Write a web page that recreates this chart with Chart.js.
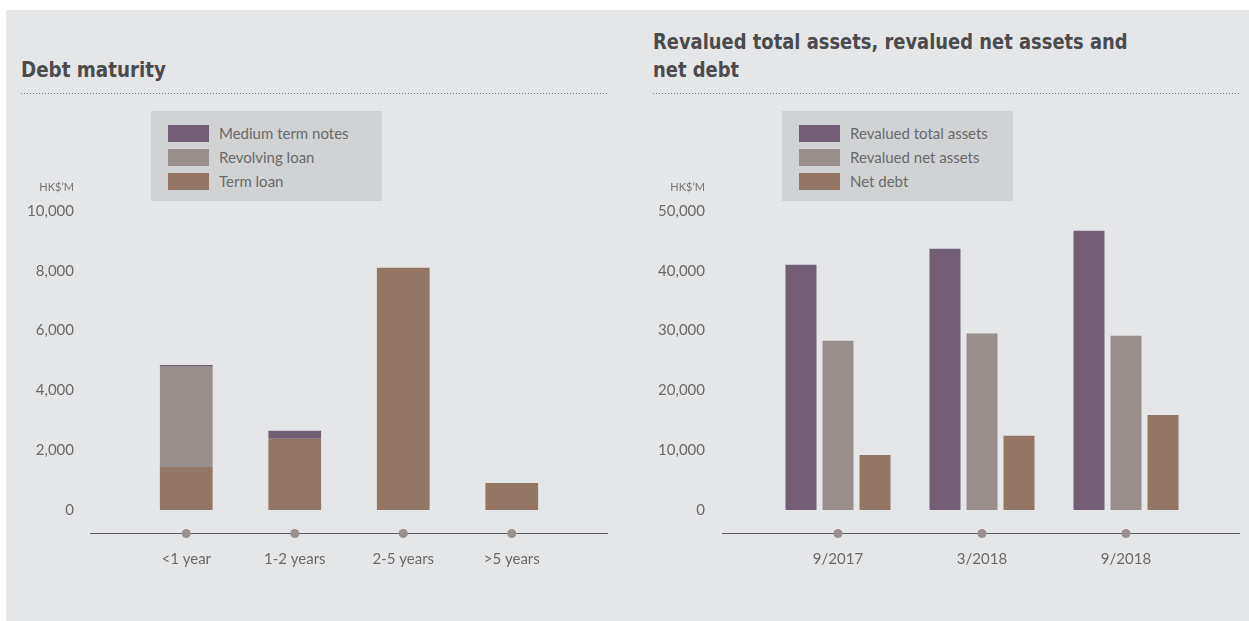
<!DOCTYPE html>
<html>
<head>
<meta charset="utf-8">
<script src="https://cdn.jsdelivr.net/npm/chart.js@4/dist/chart.umd.min.js"></script>
<style>
  body { margin: 0; background: #fff; width: 1249px; height: 621px; overflow: hidden; position: relative; font-family: Lato, "Open Sans", sans-serif; }
  .panel { position: absolute; left: 6px; top: 10px; width: 1243px; height: 611px; background: #e5e6e8; }
  .title { position: absolute; font-family: "DejaVu Sans", sans-serif; font-stretch: condensed; font-weight: bold; font-size: 22px; line-height: 28px; color: #4b4b4d; transform-origin: 0 0; white-space: nowrap; }
  .title span { display: inline-block; }
  .rule { position: absolute; height: 1px; top: 93px;
    background: repeating-linear-gradient(to right, #7a7a7a 0 1px, transparent 1px 3px); }
  .legend { position: absolute; top: 111px; width: 231px; height: 90px; background: #d1d2d4; }
  .legend .row { position: absolute; left: 17px; height: 18px; display: flex; align-items: center; }
  .legend .sw { width: 41px; height: 17px; margin-right: 10px; }
  .legend .tx { font-size: 15px; color: #6a6a6a; white-space: nowrap; }
  canvas { position: absolute; top: 0; }
</style>
</head>
<body>
<div class="panel"></div>

<div class="title" id="titleLeft" data-w="145" style="left:21px; top:56px;"><span>Debt maturity</span></div>
<div class="rule" style="left:21px; width:588px;"></div>
<div class="legend" id="legendLeft" style="left:151px;"></div>

<div class="title" id="titleRight" data-w="475" style="left:653px; top:28px;"><span>Revalued total assets, revalued net assets and</span><br><span>net debt</span></div>
<div class="rule" style="left:653px; width:588px;"></div>
<div class="legend" id="legendRight" style="left:782px;"></div>

<canvas id="debtChart" width="625" height="621" style="left:0;"></canvas>
<canvas id="assetChart" width="625" height="621" style="left:624px;"></canvas>

<script>
// colours
const PURPLE = '#735f75';
const GREY = '#988f8c';
const BROWN = '#937764';

// debt maturity (HK$'M)
const maturityLabels = ['<1 year', '1-2 years', '2-5 years', '>5 years'];
const termLoan = [1440, 2380, 8100, 900];
const revolvingLoan = [3350, 0, 0, 0];
const mediumTermNotes = [60, 270, 0, 0];
const debtTicks = [0, 2000, 4000, 6000, 8000, 10000];

// revalued assets (HK$'M)
const periodLabels = ['9/2017', '3/2018', '9/2018'];
const totalAssets = [41000, 43700, 46700];
const netAssets = [28300, 29500, 29150];
const netDebt = [9200, 12400, 15900];
const assetTicks = [0, 10000, 20000, 30000, 40000, 50000];

const textColor = '#6a6a6a';
const tickFont = { family: 'Lato, "Open Sans", sans-serif', size: 15 };

// squeeze the titles to the condensed width of the original
document.querySelectorAll('.title').forEach(el => {
    const w = Math.max(...[...el.querySelectorAll('span')].map(s => s.offsetWidth));
    el.style.transform = `scaleX(${Number(el.dataset.w) / w})`;
});

// axis line with dots, plus unit label
const axisDeco = {
    id: 'axisDeco',
    afterDraw(chart, args, opts) {
        const { ctx, chartArea, scales } = chart;
        const y = chartArea.bottom + 23;
        ctx.save();
        ctx.strokeStyle = '#58585a';
        ctx.lineWidth = 1;
        ctx.beginPath();
        ctx.moveTo(chartArea.left - opts.extendLeft, y + 0.5);
        ctx.lineTo(chartArea.right + opts.extendRight, y + 0.5);
        ctx.stroke();

        ctx.fillStyle = '#9a908d';
        scales.x.ticks.forEach((t, i) => {
            const x = scales.x.getPixelForTick(i);
            ctx.beginPath();
            ctx.arc(x, y + 0.5, 4.5, 0, Math.PI * 2);
            ctx.fill();
        });

        ctx.font = '11px Lato, "Open Sans", sans-serif';
        ctx.fillStyle = '#737373';
        ctx.textAlign = 'right';
        ctx.textBaseline = 'middle';
        ctx.fillText('HK$’M', scales.y.right - scales.y.options.ticks.padding, 187);
        ctx.restore();
    }
};

function yAxis(max, pad) {
    return {
        min: 0,
        max: max,
        afterFit: s => { s.width = 120; },
        afterBuildTicks: s => { s.ticks = (max === 10000 ? debtTicks : assetTicks).map(v => ({ value: v })); },
        ticks: {
            padding: pad,
            color: textColor,
            font: tickFont,
            callback: v => v.toLocaleString('en-US')
        },
        grid: { display: false, drawTicks: false },
        border: { display: false }
    };
}

function xAxis() {
    return {
        afterFit: s => { s.height = 60; },
        ticks: { padding: 40, color: textColor, font: tickFont },
        grid: { display: false, drawTicks: false },
        border: { display: false }
    };
}

const debtChart = new Chart(document.getElementById('debtChart').getContext('2d'), {
    type: 'bar',
    data: {
        labels: maturityLabels,
        datasets: [
            { label: 'Term loan', data: termLoan, backgroundColor: BROWN },
            { label: 'Revolving loan', data: revolvingLoan, backgroundColor: GREY },
            { label: 'Medium term notes', data: mediumTermNotes, backgroundColor: PURPLE }
        ]
    },
    options: {
        responsive: false,
        animation: false,
        layout: { padding: { left: 12, right: 59, top: 211, bottom: 51 } },
        datasets: { bar: { barPercentage: 0.486, categoryPercentage: 1 } },
        plugins: {
            legend: { display: false },
            tooltip: { enabled: false },
            axisDeco: { extendLeft: 42, extendRight: 42 }
        },
        scales: {
            x: Object.assign(xAxis(), { stacked: true }),
            y: Object.assign(yAxis(10000, 58), { stacked: true })
        }
    },
    plugins: [axisDeco]
});

const assetChart = new Chart(document.getElementById('assetChart').getContext('2d'), {
    type: 'bar',
    data: {
        labels: periodLabels,
        datasets: [
            { label: 'Revalued total assets', data: totalAssets, backgroundColor: PURPLE },
            { label: 'Revalued net assets', data: netAssets, backgroundColor: GREY },
            { label: 'Net debt', data: netDebt, backgroundColor: BROWN }
        ]
    },
    options: {
        responsive: false,
        animation: false,
        layout: { padding: { left: 22, right: 51, top: 211, bottom: 51 } },
        datasets: { bar: { barPercentage: 0.838, categoryPercentage: 0.771 } },
        plugins: {
            legend: { display: false },
            tooltip: { enabled: false },
            axisDeco: { extendLeft: 44, extendRight: 42 }
        },
        scales: {
            x: xAxis(),
            y: yAxis(50000, 61)
        }
    },
    plugins: [axisDeco]
});

// html legends built from the datasets (top to bottom as in the stack)
function buildLegend(id, datasets) {
    const el = document.getElementById(id);
    el.innerHTML = datasets.map((ds, i) => `
        <div class="row" style="top:${13 + i * 24}px">
            <div class="sw" style="background:${ds.backgroundColor}"></div>
            <span class="tx">${ds.label}</span>
        </div>
    `).join('');
}
buildLegend('legendLeft', debtChart.data.datasets.slice().reverse());
buildLegend('legendRight', assetChart.data.datasets);
</script>
</body>
</html>
